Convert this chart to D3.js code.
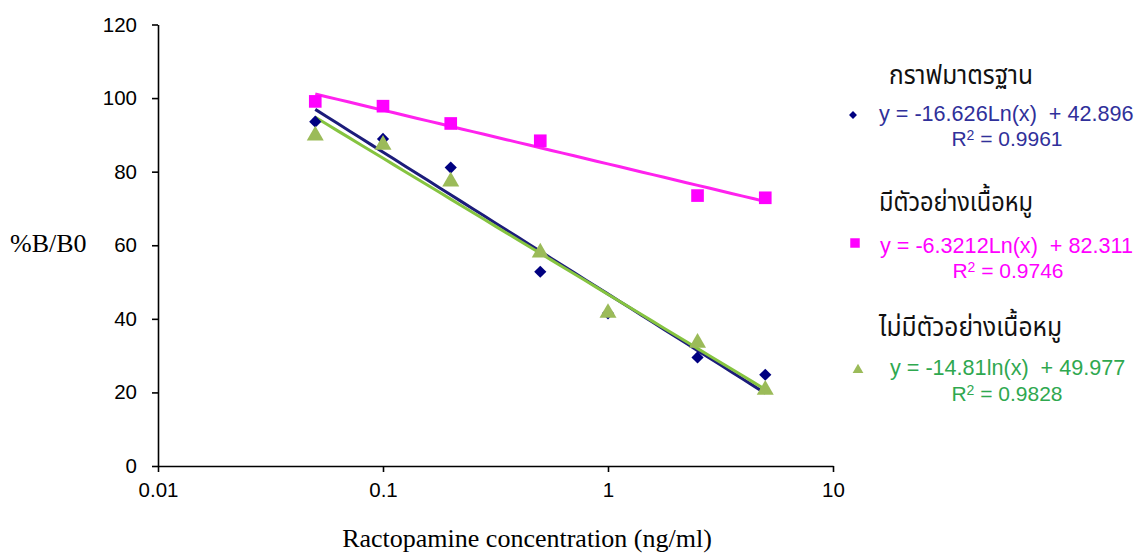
<!DOCTYPE html>
<html>
<head>
<meta charset="utf-8">
<script src="https://cdn.jsdelivr.net/npm/d3@7"></script>
<style>
  html, body { margin: 0; padding: 0; background: #fff; }
  svg { display: block; }
  .tick text { font-family: "Liberation Sans", Arial, sans-serif; font-size: 20.5px; fill: #000; }
  .axis path, .axis line { stroke: #000; stroke-width: 1.6px; }
  .title { font-family: "Liberation Serif", "Times New Roman", serif; font-size: 26px; fill: #000; }
  .thai { font-family: "Noto Sans Thai", "Tahoma", "DejaVu Sans", sans-serif; font-size: 27px; fill: #111; }
  .eq { font-family: "Liberation Sans", Arial, sans-serif; font-size: 21.6px; }
  .r2 { font-family: "Liberation Sans", Arial, sans-serif; font-size: 21px; }
</style>
</head>
<body>
<svg id="chart" width="1139" height="553"></svg>
<script>
// Ractopamine concentration (ng/ml)
const concentrations = [0.05, 0.1, 0.2, 0.5, 1, 2.5, 5];

// %B/B0 per series (null = no point at that concentration)
const standardValues = [93.6, 88.9, 81.1, 52.8, 41.5, 29.5, 24.8];
const withPorkValues = [99.1, 97.8, 93.1, 88.4, null, 73.5, 72.9];
const withoutPorkValues = [89.8, 87.3, 77.3, 58.0, 41.6, 33.5, 20.7];

const xTicks = [0.01, 0.1, 1, 10];
const yTicks = [0, 20, 40, 60, 80, 100, 120];

const seriesNames = ["กราฟมาตรฐาน", "มีตัวอย่างเนื้อหมู", "ไม่มีตัวอย่างเนื้อหมู"];
const equations = [
  "y = -16.626Ln(x)  + 42.896",
  "y = -6.3212Ln(x)  + 82.311",
  "y = -14.81ln(x)  + 49.977"
];
const rSquared = ["0.9961", "0.9746", "0.9828"];

const series = [
  { values: standardValues,    marker: d3.symbolDiamond2, size: 95,  fill: "#000080", line: "#1c1c7a", text: "#30309a" },
  { values: withPorkValues,    marker: d3.symbolSquare,   size: 160, fill: "#ff00ff", line: "#ff22ee", text: "#ff00ff" },
  { values: withoutPorkValues, marker: d3.symbolTriangle, size: 125, fill: "#9bbb59", line: "#86c440", text: "#2fa84f" }
];

const svg = d3.select("#chart");
const x = d3.scaleLog().domain([0.01, 10]).range([158, 833]);
const y = d3.scaleLinear().domain([0, 120]).range([466, 24.5]);

// Axes
svg.append("g").attr("class", "axis")
  .attr("transform", "translate(158,0)")
  .call(d3.axisLeft(y).tickValues(yTicks).tickSize(6).tickPadding(15).tickSizeOuter(0));

svg.append("g").attr("class", "axis")
  .attr("transform", "translate(0,466)")
  .call(d3.axisBottom(x).tickValues(xTicks).tickFormat(d3.format("~g")).tickSize(6).tickPadding(10).tickSizeOuter(0));

// Axis titles
svg.append("text").attr("class", "title").attr("x", 10).attr("y", 252).text("%B/B0");
svg.append("text").attr("class", "title").attr("x", 527).attr("y", 547)
  .attr("text-anchor", "middle").text("Ractopamine concentration (ng/ml)");

// Logarithmic least-squares trend line from the plotted points
function logFit(vals) {
  const pts = concentrations.map((c, i) => [Math.log(c), vals[i]]).filter(p => p[1] != null);
  const mx = d3.mean(pts, p => p[0]), my = d3.mean(pts, p => p[1]);
  const slope = d3.sum(pts, p => (p[0] - mx) * (p[1] - my)) / d3.sum(pts, p => (p[0] - mx) ** 2);
  return { slope, intercept: my - slope * mx };
}

const xMin = d3.min(concentrations), xMax = d3.max(concentrations);
const line = d3.line().x(d => x(d[0])).y(d => y(d[1]));

// Lines drawn in order: pink, navy, green (green on top)
[1, 0, 2].forEach(k => {
  const s = series[k];
  const f = logFit(s.values);
  const pts = d3.range(0, 41).map(i => {
    const c = Math.exp(Math.log(xMin) + (Math.log(xMax) - Math.log(xMin)) * i / 40);
    return [c, f.intercept + f.slope * Math.log(c)];
  });
  svg.append("path").attr("d", line(pts)).attr("fill", "none")
    .attr("stroke", s.line).attr("stroke-width", 3);
});

// Markers
series.forEach(s => {
  svg.append("g").selectAll("path")
    .data(concentrations.map((c, i) => [c, s.values[i]]).filter(d => d[1] != null))
    .join("path")
    .attr("d", d3.symbol().type(s.marker).size(s.size))
    .attr("transform", d => `translate(${x(d[0])},${y(d[1])})`)
    .attr("fill", s.fill);
});

// Legend with trend-line equations
const legendRows = [
  { titleX: 889, titleY: 84,  titleW: 144, markX: 853, markY: 115, markSize: 40, eqX: 879, eqY: 121, rX: 1007, rY: 146 },
  { titleX: 879, titleY: 211, titleW: 154, markX: 855, markY: 243, markSize: 90, eqX: 880, eqY: 253, rX: 1008, rY: 278 },
  { titleX: 879, titleY: 336, titleW: 183, markX: 858, markY: 370, markSize: 50, eqX: 890, eqY: 375, rX: 1007, rY: 401 }
];

legendRows.forEach((r, i) => {
  const s = series[i];
  svg.append("text").attr("class", "thai").attr("x", r.titleX).attr("y", r.titleY)
    .attr("textLength", r.titleW).attr("lengthAdjust", "spacingAndGlyphs")
    .text(seriesNames[i]);
  svg.append("path")
    .attr("d", d3.symbol().type(s.marker).size(r.markSize))
    .attr("transform", `translate(${r.markX},${r.markY})`)
    .attr("fill", s.fill);
  svg.append("text").attr("class", "eq").attr("x", r.eqX).attr("y", r.eqY)
    .attr("fill", s.text).attr("xml:space", "preserve").style("white-space", "pre")
    .text(equations[i]);
  const t = svg.append("text").attr("class", "r2").attr("x", r.rX).attr("y", r.rY)
    .attr("text-anchor", "middle").attr("fill", s.text);
  t.append("tspan").text("R");
  t.append("tspan").attr("font-size", "14px").attr("dy", -6).text("2");
  t.append("tspan").attr("dy", 6).text(" = " + rSquared[i]);
});
</script>
</body>
</html>
